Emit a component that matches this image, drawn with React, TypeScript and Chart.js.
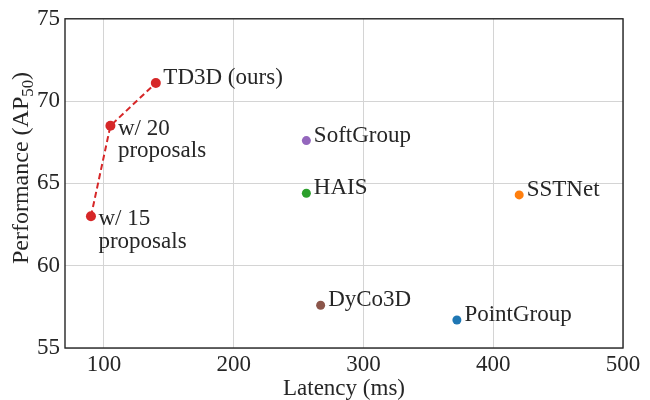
import React, { useEffect, useRef } from "react";
import { Chart, registerables } from "chart.js";

Chart.register(...registerables);

// ---- data ----
const oursLabels = ["w/ 15\nproposals", "w/ 20\nproposals", "TD3D (ours)"];
const oursLatency = [90, 105, 140];
const oursAP = [63.0, 68.5, 71.1];

const otherLabels = ["SoftGroup", "HAIS", "SSTNet", "DyCo3D", "PointGroup"];
const otherLatency = [256, 256, 420, 267, 372];
const otherAP = [67.6, 64.4, 64.3, 57.6, 56.7];

const xTicks = [100, 200, 300, 400, 500];
const yTicks = [55, 60, 65, 70, 75];

// ---- styles ----
const FONT = "'Liberation Serif', 'Times New Roman', serif";
const FS = 23;
const YT_FS = 24;
const TEXT = "#262626";
const oursColor = "#d62728";
const otherColors = ["#9467bd", "#2ca02c", "#ff7f0e", "#8c564b", "#1f77b4"];

const labelPlugin = {
  id: "pointLabels",
  afterDatasetsDraw(chart: any) {
    const ctx = chart.ctx;
    ctx.save();
    ctx.font = `${FS}px ${FONT}`;
    ctx.fillStyle = TEXT;
    ctx.textAlign = "left";
    ctx.textBaseline = "alphabetic";
    chart.data.datasets.forEach((ds: any, di: number) => {
      const meta = chart.getDatasetMeta(di);
      const labels: string[] = ds.pointLabels || [];
      meta.data.forEach((el: any, i: number) => {
        const text = labels[i];
        if (!text) return;
        const lines = text.split("\n");
        const x = el.x + 7.5;
        let y = lines.length > 1 ? el.y + 9 : el.y + 1;
        lines.forEach((ln: string) => {
          ctx.fillText(ln, x, y);
          y += 22.5;
        });
      });
    });
    ctx.restore();
  },
};

const framePlugin = {
  id: "frameTitles",
  beforeDatasetsDraw(chart: any) {
    const { ctx, chartArea } = chart;
    ctx.save();
    ctx.strokeStyle = TEXT;
    ctx.lineWidth = 1.4;
    ctx.strokeRect(
      chartArea.left,
      chartArea.top,
      chartArea.right - chartArea.left,
      chartArea.bottom - chartArea.top
    );
    ctx.restore();
  },
  afterDraw(chart: any) {
    const { ctx, chartArea } = chart;
    ctx.save();
    ctx.fillStyle = TEXT;
    // x title
    ctx.font = `${FS}px ${FONT}`;
    ctx.textAlign = "center";
    ctx.textBaseline = "alphabetic";
    ctx.fillText("Latency (ms)", (chartArea.left + chartArea.right) / 2, 395);
    // y title with subscript
    const main = "Performance (AP";
    const sub = "50";
    const close = ")";
    const subFS = YT_FS * 0.7;
    ctx.font = `${YT_FS}px ${FONT}`;
    const wMain = ctx.measureText(main).width;
    const wClose = ctx.measureText(close).width;
    ctx.font = `${subFS}px ${FONT}`;
    const wSub = ctx.measureText(sub).width;
    const total = wMain + wSub + wClose;
    ctx.translate(28, 168);
    ctx.rotate(-Math.PI / 2);
    ctx.textAlign = "left";
    let u = -total / 2;
    ctx.font = `${YT_FS}px ${FONT}`;
    ctx.fillText(main, u, 0);
    u += wMain;
    ctx.font = `${subFS}px ${FONT}`;
    ctx.fillText(sub, u, 5);
    u += wSub;
    ctx.font = `${YT_FS}px ${FONT}`;
    ctx.fillText(close, u, 0);
    ctx.restore();
  },
};

export default function App() {
  const ref = useRef<HTMLCanvasElement | null>(null);

  useEffect(() => {
    if (!ref.current) return;
    const chart = new Chart(ref.current, {
      type: "scatter",
      data: {
        datasets: [
          {
            label: "TD3D",
            data: oursLatency.map((x, i) => ({ x, y: oursAP[i] })),
            showLine: true,
            borderColor: oursColor,
            backgroundColor: oursColor,
            borderWidth: 2,
            borderDash: [6, 3.5],
            pointRadius: 5,
            pointBorderWidth: 0,
            pointBackgroundColor: oursColor,
            pointLabels: oursLabels,
          } as any,
          {
            label: "others",
            data: otherLatency.map((x, i) => ({ x, y: otherAP[i] })),
            showLine: false,
            pointRadius: 4.5,
            pointBorderWidth: 0,
            pointBackgroundColor: otherColors,
            backgroundColor: otherColors,
            pointLabels: otherLabels,
          } as any,
        ],
      },
      options: {
        animation: false,
        responsive: false,
        maintainAspectRatio: false,
        layout: { padding: { top: 14.5, right: 27, left: 0, bottom: 0 } },
        plugins: {
          legend: { display: false },
          tooltip: { enabled: false },
        },
        scales: {
          x: {
            type: "linear",
            min: 70,
            max: 500,
            afterBuildTicks: (s: any) => {
              s.ticks = xTicks.map((v) => ({ value: v }));
            },
            afterFit: (s: any) => {
              s.height = 52;
            },
            border: { display: false },
            grid: { color: "#d4d4d4", lineWidth: 1, drawTicks: false },
            ticks: {
              padding: 3,
              color: TEXT,
              font: { family: FONT, size: FS },
              maxRotation: 0,
            },
          },
          y: {
            type: "linear",
            min: 55,
            max: 75,
            afterBuildTicks: (s: any) => {
              s.ticks = yTicks.map((v) => ({ value: v }));
            },
            afterFit: (s: any) => {
              s.width = 65;
            },
            border: { display: false },
            grid: { color: "#d4d4d4", lineWidth: 1, drawTicks: false },
            ticks: {
              padding: 5,
              color: TEXT,
              font: { family: FONT, size: FS },
            },
          },
        },
      } as any,
      plugins: [framePlugin, labelPlugin],
    });
    return () => chart.destroy();
  }, []);

  return (
    <div style={{ position: "absolute", left: 0, top: 0, width: 650, height: 400, background: "#fff" }}>
      <canvas ref={ref} width={650} height={400} style={{ width: 650, height: 400 }} />
    </div>
  );
}
